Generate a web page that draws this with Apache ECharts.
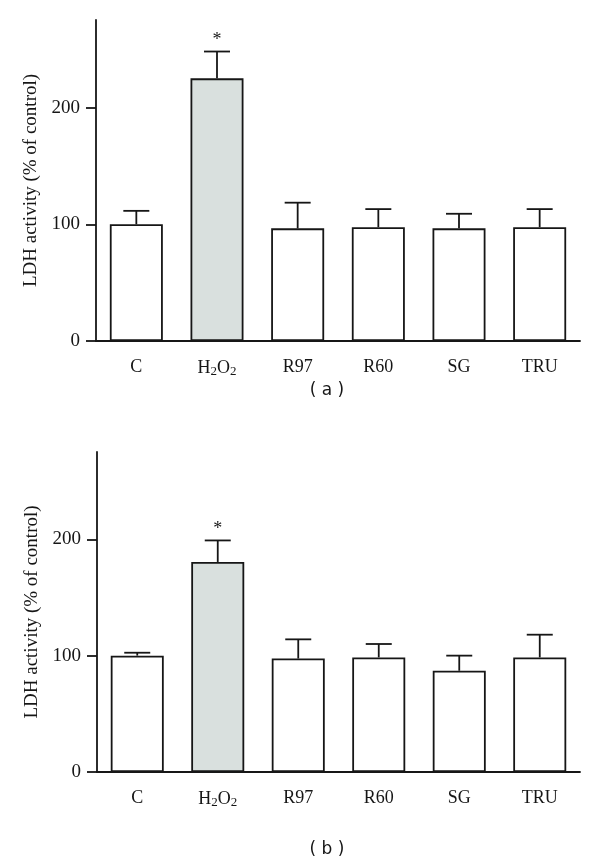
<!DOCTYPE html>
<html>
<head>
<meta charset="utf-8">
<script src="https://cdn.jsdelivr.net/npm/echarts@6/dist/echarts.min.js"></script>
<style>html,body{margin:0;padding:0;background:#fff}#c{width:600px;height:863px}</style>
</head>
<body>
<div id="c"></div>
<script>
const categories = ['C', 'H2O2', 'R97', 'R60', 'SG', 'TRU'];
const valuesA = [100, 225, 96.5, 97.5, 96.5, 97.5];
const errorsA = [111.5, 248, 118.5, 113, 109, 113];
const valuesB = [100, 180.5, 97.5, 98.5, 87, 98.5];
const errorsB = [102.5, 199, 114, 110, 100, 118];
const significant = [false, true, false, false, false, false];
const yTicks = [0, 100, 200];
const panelLabels = ['( a )', '( b )'];

const INK = '#161616';
const SERIF = '"Liberation Serif", "DejaVu Serif", serif';
const fillFor = i => categories[i] === 'H2O2' ? '#d9e0de' : '#ffffff';

const grids = [
  {left: 96, right: 20, top: 20, height: 321},
  {left: 97, right: 20, top: 452, height: 320}
];

function xAxis(gi) {
  return {
    type: 'category', gridIndex: gi, data: categories,
    axisLine: {lineStyle: {color: INK, width: 1.8}},
    axisTick: {alignWithLabel: true, length: 9, lineStyle: {color: INK, width: 1.8}},
    axisLabel: {
      interval: 0, margin: 17, color: INK, fontFamily: SERIF, fontSize: 18,
      formatter: v => v === 'H2O2' ? '{n|H}{s|2}{n|O}{s|2}' : v,
      rich: {
        n: {fontFamily: SERIF, fontSize: 18, color: INK},
        s: {fontFamily: SERIF, fontSize: 13, color: INK, verticalAlign: 'bottom', padding: [7, 0, 0, 0]}
      }
    }
  };
}
function yAxis(gi) {
  return {
    type: 'value', gridIndex: gi, min: 0, max: 275, interval: 100,
    name: 'LDH activity (% of control)', nameLocation: 'middle', nameGap: 54,
    nameTextStyle: {fontFamily: SERIF, fontSize: 19, color: INK},
    splitLine: {show: false},
    axisLine: {show: true, lineStyle: {color: INK, width: 1.8}},
    axisTick: {show: true, length: 10, customValues: yTicks, lineStyle: {color: INK, width: 1.8}},
    axisLabel: {
      margin: 16, color: INK, fontFamily: SERIF, fontSize: 19,
      customValues: yTicks
    }
  };
}

function barSeries(gi, vals) {
  return {
    type: 'bar', xAxisIndex: gi, yAxisIndex: gi, barWidth: 53, z: 2,
    data: vals.map((v, i) => ({value: v, itemStyle: {color: fillFor(i), borderColor: INK, borderWidth: 1.8}}))
  };
}
function errSeries(gi, vals, errs) {
  return {
    type: 'custom', xAxisIndex: gi, yAxisIndex: gi, z: 3,
    data: vals.map((v, i) => [i, v, errs[i], significant[i] ? 1 : 0]),
    renderItem: (params, api) => {
      const lo = api.coord([api.value(0), api.value(1)]);
      const hi = api.coord([api.value(0), api.value(2)]);
      const hw = 13;
      const children = [
        {type: 'line', shape: {x1: lo[0], y1: lo[1], x2: hi[0], y2: hi[1]}, style: {stroke: INK, lineWidth: 1.8}},
        {type: 'line', shape: {x1: hi[0] - hw, y1: hi[1], x2: hi[0] + hw, y2: hi[1]}, style: {stroke: INK, lineWidth: 1.8}}
      ];
      if (api.value(3)) {
        children.push({type: 'text', style: {text: '*', x: hi[0], y: hi[1] - 2, align: 'center', verticalAlign: 'bottom',
          font: '18px ' + SERIF, fill: INK}});
      }
      return {type: 'group', children};
    }
  };
}

const chart = echarts.init(document.getElementById('c'));
const panelStyle = {fontFamily: '"DejaVu Sans", sans-serif', fontSize: 17, fontWeight: 'normal', color: INK};
chart.setOption({
  animation: false,
  backgroundColor: '#fff',
  grid: grids,
  xAxis: [xAxis(0), xAxis(1)],
  yAxis: [yAxis(0), yAxis(1)],
  title: [
    {text: panelLabels[0], left: 322, top: 377, textAlign: 'center', textStyle: panelStyle},
    {text: panelLabels[1], left: 322, top: 836, textAlign: 'center', textStyle: panelStyle}
  ],
  series: [
    barSeries(0, valuesA), errSeries(0, valuesA, errorsA),
    barSeries(1, valuesB), errSeries(1, valuesB, errorsB)
  ]
});
</script>
</body>
</html>
